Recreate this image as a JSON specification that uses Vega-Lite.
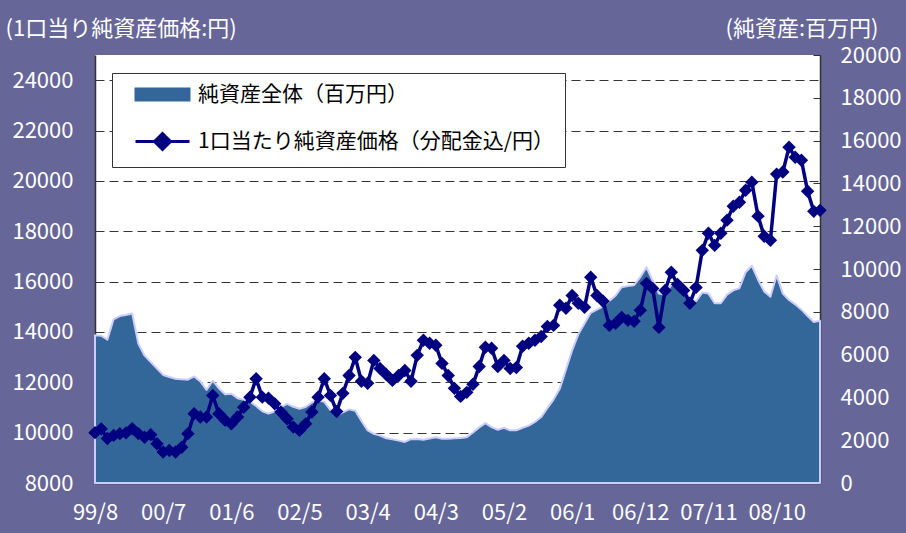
{
  "$schema": "https://vega.github.io/schema/vega-lite/v6.json",
  "width": 725,
  "height": 428,
  "autosize": {"type": "none"},
  "padding": {"left": 95, "top": 55, "right": 86, "bottom": 50},
  "background": "#666699",
  "config": {"view": {"fill": "white", "stroke": null}, "font": "Noto Sans CJK JP"},
  "data": {"values": [
    {"month": "1999-08", "assets": 6900, "nav": 10000},
    {"month": "1999-09", "assets": 6880, "nav": 10150},
    {"month": "1999-10", "assets": 6700, "nav": 9770},
    {"month": "1999-11", "assets": 7650, "nav": 9890},
    {"month": "1999-12", "assets": 7800, "nav": 9960},
    {"month": "2000-01", "assets": 7850, "nav": 9990},
    {"month": "2000-02", "assets": 7920, "nav": 10160},
    {"month": "2000-03", "assets": 6500, "nav": 9960},
    {"month": "2000-04", "assets": 5950, "nav": 9820},
    {"month": "2000-05", "assets": 5650, "nav": 9920},
    {"month": "2000-06", "assets": 5350, "nav": 9560},
    {"month": "2000-07", "assets": 5050, "nav": 9230},
    {"month": "2000-08", "assets": 4950, "nav": 9290},
    {"month": "2000-09", "assets": 4870, "nav": 9230},
    {"month": "2000-10", "assets": 4850, "nav": 9420},
    {"month": "2000-11", "assets": 4830, "nav": 9960},
    {"month": "2000-12", "assets": 4980, "nav": 10750},
    {"month": "2001-01", "assets": 4750, "nav": 10620},
    {"month": "2001-02", "assets": 4350, "nav": 10620},
    {"month": "2001-03", "assets": 4780, "nav": 11480},
    {"month": "2001-04", "assets": 4420, "nav": 10750},
    {"month": "2001-05", "assets": 4150, "nav": 10490},
    {"month": "2001-06", "assets": 4170, "nav": 10350},
    {"month": "2001-07", "assets": 3960, "nav": 10620},
    {"month": "2001-08", "assets": 3890, "nav": 11010},
    {"month": "2001-09", "assets": 3800, "nav": 11410},
    {"month": "2001-10", "assets": 3600, "nav": 12140},
    {"month": "2001-11", "assets": 3350, "nav": 11410},
    {"month": "2001-12", "assets": 3240, "nav": 11370},
    {"month": "2002-01", "assets": 3340, "nav": 11150},
    {"month": "2002-02", "assets": 3550, "nav": 10820},
    {"month": "2002-03", "assets": 3700, "nav": 10550},
    {"month": "2002-04", "assets": 3560, "nav": 10220},
    {"month": "2002-05", "assets": 3470, "nav": 10090},
    {"month": "2002-06", "assets": 3550, "nav": 10350},
    {"month": "2002-07", "assets": 3760, "nav": 10820},
    {"month": "2002-08", "assets": 3860, "nav": 11410},
    {"month": "2002-09", "assets": 3790, "nav": 12140},
    {"month": "2002-10", "assets": 3400, "nav": 11480},
    {"month": "2002-11", "assets": 3150, "nav": 10840},
    {"month": "2002-12", "assets": 3300, "nav": 11560},
    {"month": "2003-01", "assets": 3440, "nav": 12270},
    {"month": "2003-02", "assets": 3380, "nav": 12990},
    {"month": "2003-03", "assets": 2900, "nav": 12040},
    {"month": "2003-04", "assets": 2460, "nav": 11960},
    {"month": "2003-05", "assets": 2300, "nav": 12870},
    {"month": "2003-06", "assets": 2220, "nav": 12550},
    {"month": "2003-07", "assets": 2090, "nav": 12310},
    {"month": "2003-08", "assets": 2040, "nav": 12075},
    {"month": "2003-09", "assets": 1980, "nav": 12270},
    {"month": "2003-10", "assets": 1920, "nav": 12470},
    {"month": "2003-11", "assets": 2050, "nav": 12040},
    {"month": "2003-12", "assets": 2060, "nav": 13070},
    {"month": "2004-01", "assets": 2020, "nav": 13670},
    {"month": "2004-02", "assets": 2080, "nav": 13550},
    {"month": "2004-03", "assets": 2140, "nav": 13470},
    {"month": "2004-04", "assets": 2070, "nav": 12750},
    {"month": "2004-05", "assets": 2070, "nav": 12270},
    {"month": "2004-06", "assets": 2090, "nav": 11760},
    {"month": "2004-07", "assets": 2100, "nav": 11440},
    {"month": "2004-08", "assets": 2140, "nav": 11600},
    {"month": "2004-09", "assets": 2360, "nav": 11920},
    {"month": "2004-10", "assets": 2600, "nav": 12630},
    {"month": "2004-11", "assets": 2800, "nav": 13390},
    {"month": "2004-12", "assets": 2610, "nav": 13350},
    {"month": "2005-01", "assets": 2490, "nav": 12630},
    {"month": "2005-02", "assets": 2580, "nav": 12870},
    {"month": "2005-03", "assets": 2460, "nav": 12550},
    {"month": "2005-04", "assets": 2460, "nav": 12590},
    {"month": "2005-05", "assets": 2580, "nav": 13430},
    {"month": "2005-06", "assets": 2680, "nav": 13550},
    {"month": "2005-07", "assets": 2850, "nav": 13670},
    {"month": "2005-08", "assets": 3080, "nav": 13820},
    {"month": "2005-09", "assets": 3500, "nav": 14220},
    {"month": "2005-10", "assets": 3900, "nav": 14260},
    {"month": "2005-11", "assets": 4400, "nav": 15060},
    {"month": "2005-12", "assets": 5300, "nav": 14940},
    {"month": "2006-01", "assets": 6200, "nav": 15450},
    {"month": "2006-02", "assets": 6950, "nav": 15140},
    {"month": "2006-03", "assets": 7450, "nav": 14980},
    {"month": "2006-04", "assets": 7950, "nav": 16170},
    {"month": "2006-05", "assets": 8100, "nav": 15450},
    {"month": "2006-06", "assets": 8250, "nav": 15220},
    {"month": "2006-07", "assets": 8500, "nav": 14260},
    {"month": "2006-08", "assets": 8750, "nav": 14340},
    {"month": "2006-09", "assets": 9150, "nav": 14580},
    {"month": "2006-10", "assets": 9200, "nav": 14460},
    {"month": "2006-11", "assets": 9240, "nav": 14420},
    {"month": "2006-12", "assets": 9620, "nav": 14860},
    {"month": "2007-01", "assets": 10080, "nav": 15930},
    {"month": "2007-02", "assets": 9450, "nav": 15730},
    {"month": "2007-03", "assets": 8850, "nav": 14180},
    {"month": "2007-04", "assets": 8800, "nav": 15650},
    {"month": "2007-05", "assets": 9250, "nav": 16370},
    {"month": "2007-06", "assets": 9300, "nav": 15890},
    {"month": "2007-07", "assets": 9200, "nav": 15650},
    {"month": "2007-08", "assets": 8600, "nav": 15140},
    {"month": "2007-09", "assets": 8500, "nav": 15770},
    {"month": "2007-10", "assets": 8900, "nav": 17240},
    {"month": "2007-11", "assets": 8850, "nav": 17920},
    {"month": "2007-12", "assets": 8400, "nav": 17440},
    {"month": "2008-01", "assets": 8400, "nav": 17920},
    {"month": "2008-02", "assets": 8800, "nav": 18440},
    {"month": "2008-03", "assets": 9000, "nav": 18990},
    {"month": "2008-04", "assets": 9100, "nav": 19150},
    {"month": "2008-05", "assets": 9850, "nav": 19630},
    {"month": "2008-06", "assets": 10150, "nav": 19950},
    {"month": "2008-07", "assets": 9500, "nav": 18600},
    {"month": "2008-08", "assets": 8950, "nav": 17800},
    {"month": "2008-09", "assets": 8700, "nav": 17640},
    {"month": "2008-10", "assets": 9700, "nav": 20270},
    {"month": "2008-11", "assets": 8850, "nav": 20350},
    {"month": "2008-12", "assets": 8550, "nav": 21340},
    {"month": "2009-01", "assets": 8350, "nav": 20940},
    {"month": "2009-02", "assets": 8100, "nav": 20820},
    {"month": "2009-03", "assets": 7800, "nav": 19590},
    {"month": "2009-04", "assets": 7520, "nav": 18790},
    {"month": "2009-05", "assets": 7580, "nav": 18830}
  ]},
  "encoding": {
    "x": {
      "field": "month", "type": "ordinal", "sort": null,
      "scale": {"type": "point", "padding": 0},
      "axis": {
        "title": null,
        "values": ["1999-08", "2000-07", "2001-06", "2002-05", "2003-04", "2004-03", "2005-02", "2006-01", "2006-12", "2007-11", "2008-10"],
        "labelExpr": "substring(datum.value, 2, 4) + '/' + toNumber(substring(datum.value, 5, 7))",
        "labelAngle": 0,
        "labelColor": "white",
        "labelFontSize": 22,
        "labelFont": "Noto Sans CJK JP",
        "labelOverlap": false,
        "labelPadding": 26,
        "tickSize": -7,
        "tickColor": "#333333",
        "domainColor": "#333333",
        "domainWidth": 1.5,
        "grid": false
      }
    }
  },
  "layer": [
    {
      "mark": {"type": "area", "stroke": "#ccccff", "strokeWidth": 2, "strokeJoin": "round"},
      "encoding": {
        "y": {
          "field": "assets", "type": "quantitative", "stack": null,
          "scale": {"domain": [0, 20000], "nice": false},
          "axis": {
            "orient": "right",
            "values": [0, 2000, 4000, 6000, 8000, 10000, 12000, 14000, 16000, 18000, 20000],
            "format": "d",
            "grid": false,
            "title": "(純資産:百万円)",
            "titleAngle": 0, "titleAlign": "right", "titleBaseline": "middle",
            "titleX": 58, "titleY": -27,
            "titleColor": "white", "titleFontSize": 22, "titleFontWeight": "normal",
            "labelColor": "white", "labelFontSize": 22, "labelPadding": 27,
            "tickSize": -7, "tickColor": "#333333",
            "domainColor": "#333333", "domainWidth": 1.5
          }
        },
        "color": {
          "datum": "純資産全体（百万円）",
          "scale": {
            "domain": ["純資産全体（百万円）", "1口当たり純資産価格（分配金込/円）"],
            "range": ["#336699", "#000080"]
          },
          "legend": {
            "title": null,
            "orient": "none",
            "legendX": 17,
            "legendY": 18,
            "direction": "vertical",
            "fillColor": "white",
            "strokeColor": "#333333",
            "padding": 11,
            "labelFontSize": 21,
            "labelColor": "black",
            "labelFont": "Noto Sans CJK JP",
            "labelLimit": 600,
            "symbolSize": 100,
            "symbolOffset": 29,
            "labelOffset": 25,
            "rowPadding": 22,
            "encode": {
              "symbols": {
                "update": {
                  "shape": {"signal": "datum.index === 0 ? 'M-5.4,-1.2H5.4V1.2H-5.4Z' : 'M-5.4,0H5.4M-1.6,0L0,-1.6L1.6,0L0,1.6Z'"},
                  "fill": {"signal": "datum.index === 0 ? '#336699' : '#000080'"},
                  "stroke": {"signal": "datum.index === 0 ? '#ccccff' : '#000080'"},
                  "strokeWidth": {"signal": "datum.index === 0 ? 2 : 3"},
                  "opacity": {"value": 1}
                }
              }
            }
          }
        }
      }
    },
    {
      "mark": {"type": "line", "strokeWidth": 3.5, "point": {"shape": "diamond", "size": 180, "filled": true, "opacity": 1}},
      "encoding": {
        "y": {
          "field": "nav", "type": "quantitative",
          "scale": {"domain": [8000, 25000], "nice": false},
          "axis": {
            "orient": "left",
            "values": [8000, 10000, 12000, 14000, 16000, 18000, 20000, 22000, 24000],
            "format": "d",
            "grid": true,
            "gridColor": "#333333",
            "gridDash": [9, 5],
            "gridWidth": 1,
            "title": "(1口当り純資産価格:円)",
            "titleAngle": 0, "titleAlign": "left", "titleBaseline": "middle",
            "titleX": -90, "titleY": -27,
            "titleColor": "white", "titleFontSize": 22, "titleFontWeight": "normal",
            "labelColor": "white", "labelFontSize": 22, "labelPadding": 29,
            "tickSize": -7, "tickColor": "#333333",
            "domainColor": "#333333", "domainWidth": 1.5
          }
        },
        "color": {
          "datum": "1口当たり純資産価格（分配金込/円）",
          "legend": {
            "title": null,
            "orient": "none",
            "legendX": 17,
            "legendY": 18,
            "direction": "vertical",
            "fillColor": "white",
            "strokeColor": "#333333",
            "padding": 11,
            "labelFontSize": 21,
            "labelColor": "black",
            "labelFont": "Noto Sans CJK JP",
            "labelLimit": 600,
            "symbolSize": 100,
            "symbolOffset": 29,
            "labelOffset": 25,
            "rowPadding": 22,
            "encode": {
              "symbols": {
                "update": {
                  "shape": {"signal": "datum.index === 0 ? 'M-5.4,-1.2H5.4V1.2H-5.4Z' : 'M-5.4,0H5.4M-1.6,0L0,-1.6L1.6,0L0,1.6Z'"},
                  "fill": {"signal": "datum.index === 0 ? '#336699' : '#000080'"},
                  "stroke": {"signal": "datum.index === 0 ? '#ccccff' : '#000080'"},
                  "strokeWidth": {"signal": "datum.index === 0 ? 2 : 3"},
                  "opacity": {"value": 1}
                }
              }
            }
          }
        }
      }
    }
  ],
  "resolve": {"scale": {"y": "independent"}}
}
